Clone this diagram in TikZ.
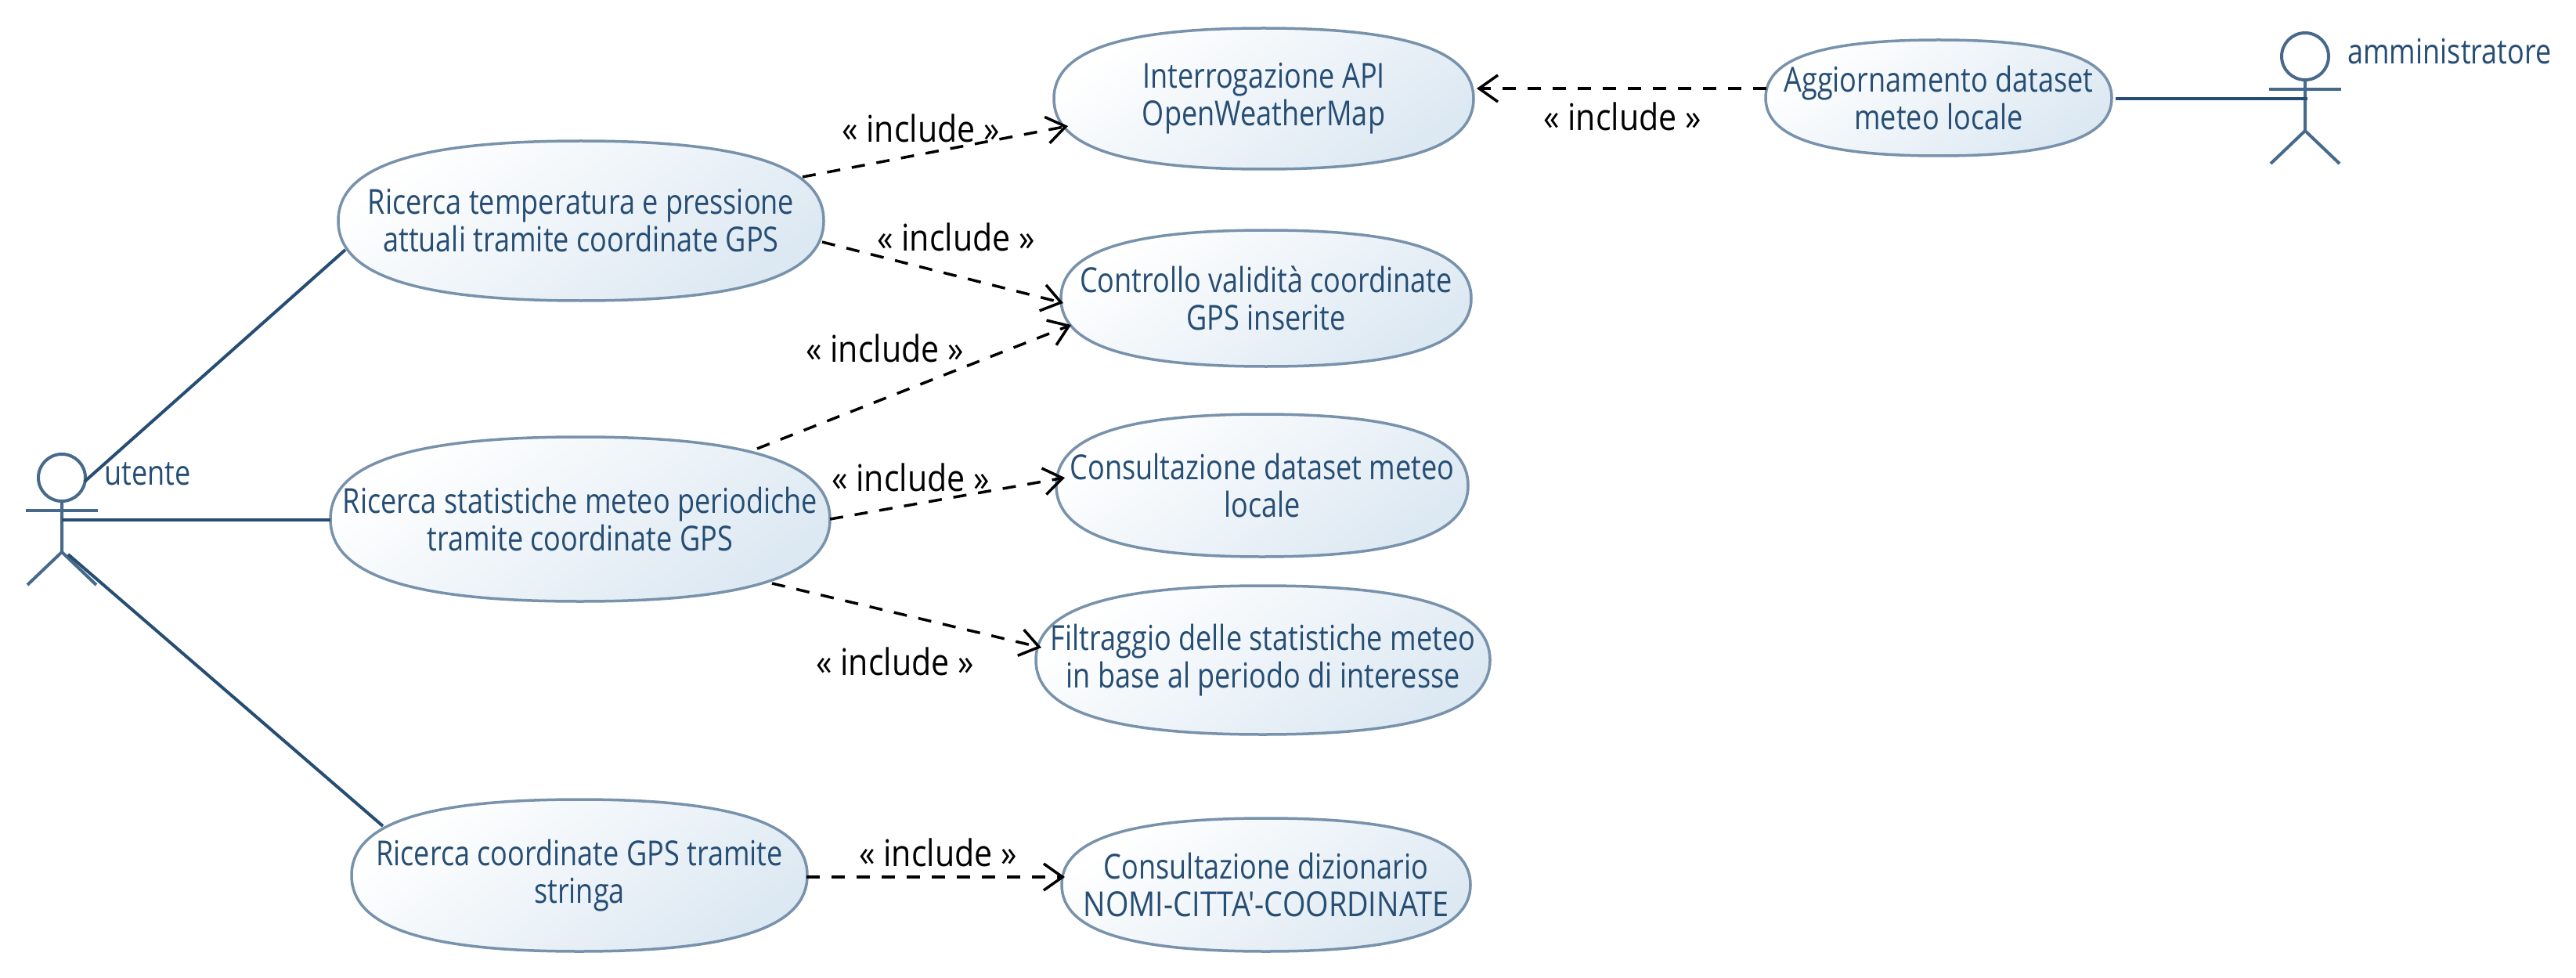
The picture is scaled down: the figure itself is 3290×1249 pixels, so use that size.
\documentclass[tikz,border=0pt]{standalone}
\usepackage{fontspec}
\setmainfont[FakeStretch=0.82]{Open Sans}
\newfontfamily\inclfont[FakeStretch=0.875]{Open Sans}
\newfontfamily\capsfont[FakeStretch=0.86]{Open Sans}
\usetikzlibrary{arrows.meta,calc,shapes.geometric}
\definecolor{ink}{HTML}{264D73}
\definecolor{actorc}{HTML}{47698C}
\definecolor{edge}{HTML}{7892AC}
\definecolor{fillb}{HTML}{DCE8F2}
\newcommand{\usecase}[6]{%
  % name, cx, cy, rx, ry, text
  \path[usecasefill] (#2-#4,#3) .. controls (#2-#4,#3-0.68*#5) and (#2-0.68*#4,#3-#5) .. (#2,#3-#5)
     .. controls (#2+0.68*#4,#3-#5) and (#2+#4,#3-0.68*#5) .. (#2+#4,#3)
     .. controls (#2+#4,#3+0.68*#5) and (#2+0.68*#4,#3+#5) .. (#2,#3+#5)
     .. controls (#2-0.68*#4,#3+#5) and (#2-#4,#3+0.68*#5) .. (#2-#4,#3) -- cycle;
  \node[usecasetext] (#1) at (#2,#3) {#6};
}
\newcommand{\actorfig}[3]{%
  % name, head x, head y
  \node[actorhead] (#1) at (#2,#3) {};
  \draw[actorline] (#1.south) -- ++(0,65) coordinate (#1hip)
     -- ++(-44,42) (#1hip) -- ++(44,42);
  \draw[actorline] ($(#1.south)+(-46,12)$) -- ++(92,0);
}
\tikzset{
  x=1pt,y=-1pt,
  usecasefill/.style={draw=edge,line width=3.5pt,shading=axis,top color=white,bottom color=fillb,shading angle=35},
  usecasetext/.style={align=center,text=ink,font=\fontsize{44}{48}\selectfont,inner sep=0pt},
  actorhead/.style={draw=actorc,line width=4pt,ellipse,minimum width=60pt,minimum height=60pt,inner sep=0pt,outer sep=0pt},
  actorline/.style={draw=actorc,line width=4pt},
  actortext/.style={text=ink,font=\fontsize{44}{48}\selectfont,anchor=base west,inner sep=0pt},
  assoc/.style={draw=ink,line width=4pt},
  incl/.style={draw=black,line width=3.5pt,dash pattern=on 17pt off 15pt,-{Straight Barb[length=24pt,width=34pt,line width=3.5pt]}},
  incltext/.style={text=black,font=\inclfont\fontsize{47}{48}\selectfont,anchor=base,inner sep=0pt},
}
\begin{document}
\begin{tikzpicture}
\useasboundingbox (0,0) rectangle (3290,1249);
\usecase{T}{742}{282}{310}{102}{Ricerca temperatura e pressione\\attuali tramite coordinate GPS}
\usecase{S}{741}{663}{319}{105}{Ricerca statistiche meteo periodiche\\tramite coordinate GPS}
\usecase{G}{740}{1118}{291}{97}{Ricerca coordinate GPS tramite\\stringa}
\usecase{A}{1614}{126}{268}{90}{Interrogazione API\\OpenWeatherMap}
\usecase{C}{1617}{381}{262}{87}{Controllo validità coordinate\\GPS inserite}
\usecase{L}{1612}{620}{263}{91}{Consultazione dataset meteo\\locale}
\usecase{F}{1613}{843}{290}{95}{Filtraggio delle statistiche meteo\\in base al periodo di interesse}
\usecase{D}{1617}{1130}{261}{85}{Consultazione dizionario\\{\capsfont NOMI-CITTA\symbol{39}-COORDINATE}}
\usecase{U}{2476}{125}{221}{74}{Aggiornamento dataset\\meteo locale}

\actorfig{utente}{79}{610}
\actorfig{admin}{2944}{72}
\node[actortext] (utentelabel) at (133,619) {utente};
\node[actortext] (adminlabel) at (2998,82) {amministratore};

\coordinate (u1) at ($(utente.east)+(-1,5)$);
\coordinate (u2) at ($(utentehip)+(0,-41)$);
\coordinate (u3) at ($(utentehip)+(8,3)$);
\coordinate (a1) at ($(adminhip)+(3,-41)$);

\draw[assoc] (u1) -- ([shift={(-301,37)}]T.center);
\draw[assoc] (u2) -- ([shift={(-319,1)}]S.center);
\draw[assoc] (u3) -- ([shift={(-251,-63)}]G.center);
\draw[assoc] (a1) -- ([shift={(226,1)}]U.center);

\draw[incl] ([shift={(283,-56)}]T.center) -- ([shift={(-250,35)}]A.center);
\draw[incl] ([shift={(308,27)}]T.center) -- ([shift={(-259,6)}]C.center);
\draw[incl] ([shift={(226,-90)}]S.center) -- ([shift={(-249,34)}]C.center);
\draw[incl] ([shift={(319,0)}]S.center) -- ([shift={(-252,-10)}]L.center);
\draw[incl] ([shift={(245,82)}]S.center) -- ([shift={(-283,-16)}]F.center);
\draw[incl] ([shift={(290,2)}]G.center) -- ([shift={(-257,-10)}]D.center);
\draw[incl] ([shift={(-220,-12)}]U.center) -- ([shift={(272,-13)}]A.center);

\node[incltext] (i1) at (1176,182) {« include »};
\node[incltext] (i2) at (1221,320) {« include »};
\node[incltext] (i3) at (1130,462) {« include »};
\node[incltext] (i4) at (1163,627) {« include »};
\node[incltext] (i5) at (1143,862) {« include »};
\node[incltext] (i6) at (1198,1106) {« include »};
\node[incltext] (i7) at (2072,167) {« include »};
\end{tikzpicture}
\end{document}
